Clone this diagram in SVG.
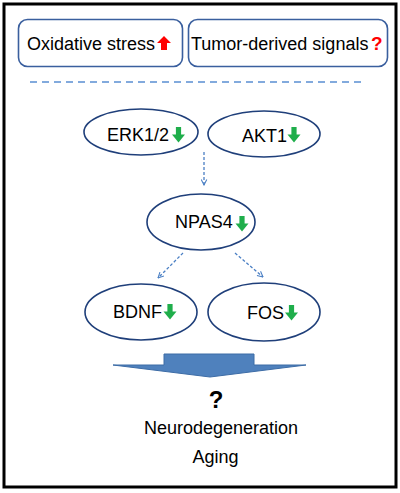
<svg xmlns="http://www.w3.org/2000/svg" width="400" height="493" viewBox="0 0 400 493">
<defs>
<style>
text{font-family:"Liberation Sans",Arial,sans-serif;font-size:18px;fill:#000}
.box{fill:#fff;stroke:#3a5f9e;stroke-width:1.6}
.ell{fill:#fff;stroke:#1f3f7a;stroke-width:1.6}
.con{fill:none;stroke:#4a7fc4;stroke-width:1.3;stroke-dasharray:3 2}
.down{fill:#1fae4b}
</style>
<path id="dn" d="M-2.6,0 H2.6 V7.5 H6.5 L0,15.5 L-6.5,7.5 H-2.6 Z"/>
<marker id="ah" viewBox="0 0 10 10" refX="9" refY="5" markerWidth="7" markerHeight="7" orient="auto" markerUnits="userSpaceOnUse">
<path d="M1,1 L9,5 L1,9" fill="none" stroke="#4a7fc4" stroke-width="1.5"/>
</marker>
</defs>
<rect x="0" y="0" width="400" height="493" fill="#fff"/>
<rect x="4" y="4" width="392" height="483" fill="none" stroke="#000" stroke-width="3"/>

<g id="oxidative">
<rect class="box" x="18.5" y="19.5" width="164" height="47" rx="9"/>
<text x="27" y="49.5">Oxidative stress</text>
<path d="M164,36 L171,43 H167 V50 H161 V43 H157 Z" fill="#ff0000"/>
</g>
<g id="tumor">
<rect class="box" x="188.5" y="19.5" width="199" height="47" rx="9"/>
<text x="191" y="49.5">Tumor-derived signals</text>
<text x="371" y="50" style="fill:#ff0000;font-weight:bold;font-size:19px">?</text>
</g>
<line x1="30" y1="82" x2="366" y2="82" stroke="#5a8fd2" stroke-width="1.6" stroke-dasharray="7 5"/>

<g id="erk">
<ellipse class="ell" cx="141" cy="132" rx="57" ry="23"/>
<text x="107" y="141">ERK1/2</text>
<use href="#dn" class="down" x="178.5" y="127"/>
</g>
<g id="akt1">
<ellipse class="ell" cx="264" cy="134" rx="56" ry="23"/>
<text x="242" y="142">AKT1</text>
<use href="#dn" class="down" x="294" y="127"/>
</g>
<g id="npas4">
<ellipse class="ell" cx="201" cy="222" rx="54" ry="28"/>
<text x="175" y="228">NPAS4</text>
<use href="#dn" class="down" x="242" y="216"/>
</g>
<g id="bdnf">
<ellipse class="ell" cx="141" cy="312" rx="56" ry="28"/>
<text x="113" y="318">BDNF</text>
<use href="#dn" class="down" x="170" y="304"/>
</g>
<g id="fos">
<ellipse class="ell" cx="264" cy="312" rx="56" ry="29"/>
<text x="247" y="319">FOS</text>
<use href="#dn" class="down" x="291.5" y="305"/>
</g>

<g id="connectors">
<line class="con" x1="204" y1="152" x2="204" y2="185" marker-end="url(#ah)"/>
<line class="con" x1="183" y1="253" x2="158" y2="278" marker-end="url(#ah)"/>
<line class="con" x1="235" y1="253" x2="263" y2="277" marker-end="url(#ah)"/>
</g>

<g id="outcome">
<path d="M164,354 H254 V365 H306 L210,377 L113,365 H164 Z" fill="#4f81bd" stroke="#3d6ca6" stroke-width="1"/>
<text x="216" y="408" text-anchor="middle" style="font-weight:bold;font-size:24px">?</text>
<text x="221" y="434" text-anchor="middle">Neurodegeneration</text>
<text x="215.5" y="463" text-anchor="middle">Aging</text>
</g>
</svg>
